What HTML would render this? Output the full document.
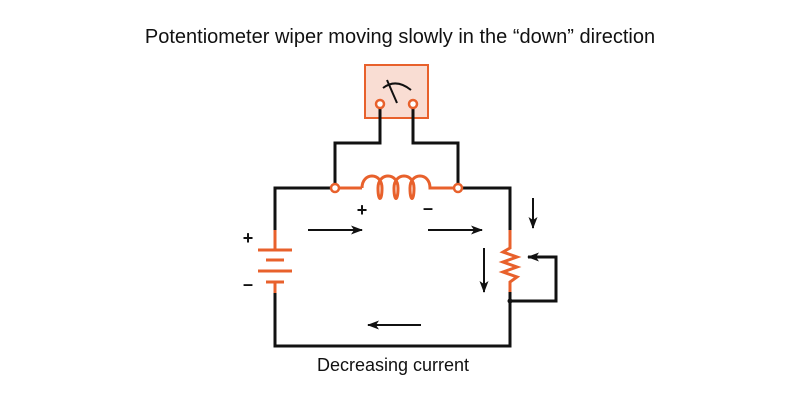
<!DOCTYPE html>
<html><head><meta charset="utf-8"><style>
body{margin:0;background:#fff}
svg{display:block}
text{font-family:"Liberation Sans",sans-serif;fill:#111}
</style></head><body>
<svg width="800" height="400" viewBox="0 0 800 400">
<defs><marker id="ah" markerWidth="12" markerHeight="9" refX="11" refY="4.5" orient="auto" markerUnits="userSpaceOnUse"><path d="M0,0 L12,4.5 L0,9 L3,4.5 Z" fill="#111"/></marker></defs>
<text x="400" y="43" font-size="20" text-anchor="middle">Potentiometer wiper moving slowly in the “down” direction</text>
<g>
<rect x="365" y="65" width="63" height="53" fill="#f9ddd3" stroke="#e8612c" stroke-width="2"/>
<path d="M383,88 Q396,78 411,90" fill="none" stroke="#111" stroke-width="2"/>
<line x1="387" y1="80" x2="397" y2="103" stroke="#111" stroke-width="2"/>
</g>
<g fill="none" stroke="#111" stroke-width="3">
<polyline points="380,108 380,143 335,143 335,184"/>
<polyline points="413,108 413,143 458,143 458,184"/>
<polyline points="275,230 275,188 331,188"/>
<polyline points="462,188 510,188 510,230"/>
<polyline points="510,292 510,346 275,346 275,293"/>
<polyline points="510,301 556,301 556,257 528,257" marker-end="url(#ah)"/>
</g>
<g fill="none" stroke="#e8612c" stroke-width="3">
<line x1="339" y1="188" x2="362" y2="188"/>
<path d="M362,188 C362,172 382,172 382,188 C382,202 378,202 378,188 C378,172 398,172 398,188 C398,202 394,202 394,188 C394,172 414,172 414,188 C414,202 410,202 410,188 C410,172 430,172 430,188 L454,188"/>
<line x1="275" y1="230" x2="275" y2="250"/>
<line x1="258" y1="250" x2="292" y2="250"/>
<line x1="266" y1="260" x2="284" y2="260"/>
<line x1="258" y1="271" x2="292" y2="271"/>
<line x1="266" y1="282" x2="284" y2="282"/>
<line x1="275" y1="282" x2="275" y2="293"/>
<polyline points="510,230 510,248 503,252 517,257 503,262 517,267 503,272 517,277 510,282 510,292"/>
</g>
<g fill="#fff" stroke="#e8612c" stroke-width="2.5">
<circle cx="380" cy="104" r="4"/><circle cx="413" cy="104" r="4"/>
<circle cx="335" cy="188" r="4"/><circle cx="458" cy="188" r="4"/>
</g>
<circle cx="510" cy="301" r="2.5" fill="#111"/>
<g stroke="#111" stroke-width="2" marker-end="url(#ah)">
<line x1="308" y1="230" x2="362" y2="230"/>
<line x1="428" y1="230" x2="482" y2="230"/>
<line x1="533" y1="198" x2="533" y2="228"/>
<line x1="484" y1="248" x2="484" y2="292"/>
<line x1="421" y1="325" x2="368" y2="325"/>
</g>
<g font-size="18" font-weight="bold" text-anchor="middle">
<text x="248" y="244">+</text><text x="248" y="290">–</text>
<text x="362" y="216">+</text><text x="428" y="214">–</text>
</g>
<text x="393" y="371" font-size="18" text-anchor="middle">Decreasing current</text>
</svg>
</body></html>
